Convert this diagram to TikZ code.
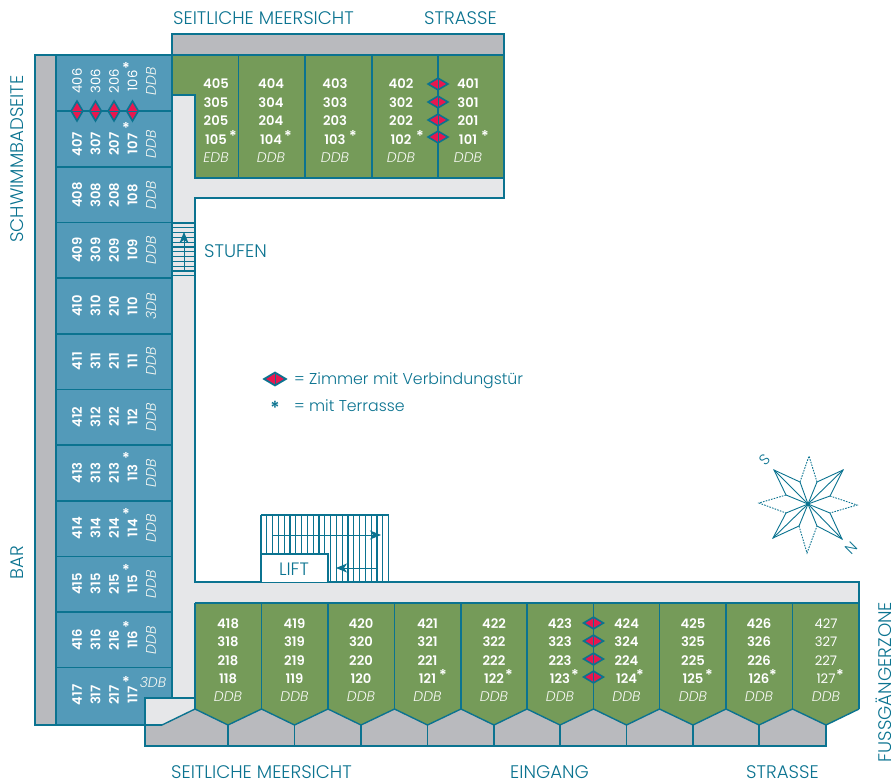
\documentclass[tikz,border=0pt]{standalone}
\usepackage{fontspec}
\setmainfont{Poppins}[UprightFont=* Light,BoldFont=* SemiBold,ItalicFont=* Light Italic]
\newfontfamily\regf{Poppins}
\usetikzlibrary{arrows.meta}
\definecolor{teal}{HTML}{0B7390}
\definecolor{bluer}{HTML}{539AB9}
\definecolor{greenr}{HTML}{759B59}
\definecolor{grayr}{HTML}{B9BABE}
\definecolor{corr}{HTML}{E6E7E9}
\definecolor{redd}{HTML}{E8174F}
\definecolor{bedc}{HTML}{F6F8F3}
\tikzset{
 wall/.style={draw=teal,line width=1.4bp},
 lbl/.style={text=teal,font=\fontsize{18.3}{19}\selectfont,inner sep=0pt},
 legendtext/.style={text=teal,font=\fontsize{15.8}{16}\selectfont,inner sep=0pt},
 num/.style={text=white,font=\bfseries\fontsize{13.2}{13}\selectfont,inner sep=0pt},
 thin num/.style={text=white,font=\regf\fontsize{13.2}{13}\selectfont,inner sep=0pt},
 bed/.style={text=bedc,font=\itshape\fontsize{14}{14}\selectfont,inner sep=0pt},
 starm/.style={text=white,font=\bfseries\fontsize{15}{15}\selectfont,inner sep=0pt},
 flight/.style={draw=teal,line width=1.2bp},
 flow/.style={draw=teal,line width=1bp,-{Stealth[length=11bp,width=9bp,inset=3bp]}},
 compass/.style={draw=teal,line width=0.9bp},
 compass dash/.style={draw=teal,line width=0.9bp,dash pattern=on 1.6bp off 1.2bp},
}
\newcommand{\dmH}[3]{% x y scale : wide diamond, vertical divider
 \fill[teal] (#1-11.5*#3,#2)--(#1,#2-6.8*#3)--(#1+11.5*#3,#2)--(#1,#2+6.8*#3)--cycle;
 \fill[redd] (#1-8*#3,#2)--(#1,#2-4.8*#3)--(#1+8*#3,#2)--(#1,#2+4.8*#3)--cycle;
 \draw[teal,line width=1bp] (#1,#2-6.8*#3)--(#1,#2+6.8*#3);}
\newcommand{\dmV}[2]{% x y : tall diamond, horizontal divider
 \fill[teal] (#1,#2-11.5)--(#1-6.8,#2)--(#1,#2+11.5)--(#1+6.8,#2)--cycle;
 \fill[redd] (#1,#2-8)--(#1-4.8,#2)--(#1,#2+8)--(#1+4.8,#2)--cycle;
 \draw[teal,line width=1bp] (#1-6.8,#2)--(#1+6.8,#2);}
\begin{document}
\begin{tikzpicture}[x=1bp,y=-1bp]
\useasboundingbox (0,0) rectangle (891,782);
% fills
\fill[grayr] (35,55) rectangle (56,725);
\fill[bluer] (56,55) rectangle (172,725);
\fill[grayr] (172,34) rectangle (504,55);
\fill[corr] (172,95) rectangle (195,698);
\fill[corr] (195,178) rectangle (504,198);
\fill[corr] (172,582) rectangle (859,603);
\fill[corr] (145,698) -- (195,698) -- (195,709) -- (162,725) -- (145,725) -- cycle;
\fill[greenr] (172,55) -- (504,55) -- (504,178) -- (195,178) -- (195,95) -- (172,95) -- cycle;
\fill[grayr] (145,725) -- (162,725) -- (195,709) -- (228,725) -- (261.5,709) -- (294.5,725) -- (328,709) -- (361,725) -- (394.5,709) -- (427.5,725) -- (461,709) -- (494,725) -- (527,709) -- (560,725) -- (593.5,709) -- (626.5,725) -- (659.5,709) -- (693,725) -- (726,709) -- (759,725) -- (792.5,709) -- (826,725) -- (826,746) -- (145,746) -- cycle;
\fill[greenr] (195,603) -- (859,603) -- (859,709) -- (826,725) -- (792.5,709) -- (759,725) -- (726,709) -- (693,725) -- (659.5,709) -- (626.5,725) -- (593.5,709) -- (560,725) -- (527,709) -- (494,725) -- (461,709) -- (427.5,725) -- (394.5,709) -- (361,725) -- (328,709) -- (294.5,725) -- (261.5,709) -- (228,725) -- (195,709) -- cycle;
% walls
\draw[wall] (145,725) -- (35,725) -- (35,55) -- (172,55) -- (172,34) -- (504,34) -- (504,198) -- (195,198) -- (195,582) -- (859,582) -- (859,709);
\draw[wall] (56,55) -- (56,725);
\draw[wall] (172,55) -- (504,55);
\draw[wall] (172,55) -- (172,698);
\draw[wall] (172,95) -- (195,95) -- (195,178) -- (504,178);
\foreach \y in {111,167,222.5,278,334,389.5,445,501,556.5,612,667.5} \draw[wall] (56,\y) -- (172,\y);
\foreach \x in {238.5,305,372,438} \draw[wall] (\x,55) -- (\x,178);
\draw[wall] (195,603) -- (859,603);
\draw[wall] (195,603) -- (195,709);
\foreach \x in {261.5,328,394.5,461,527,593.5,659.5,726,792.5,859} \draw[wall] (\x,603) -- (\x,709);
\draw[wall] (162,725) -- (195,709) -- (228,725) -- (261.5,709) -- (294.5,725) -- (328,709) -- (361,725) -- (394.5,709) -- (427.5,725) -- (461,709) -- (494,725) -- (527,709) -- (560,725) -- (593.5,709) -- (626.5,725) -- (659.5,709) -- (693,725) -- (726,709) -- (759,725) -- (792.5,709) -- (826,725) -- (859,709);
\foreach \x in {228,294.5,361,427.5,494,560,626.5,693,759} \draw[wall] (\x,725) -- (\x,746);
\draw[wall] (195,698) -- (145,698) -- (145,746) -- (826,746) -- (826,725);
\draw[wall] (145,725) -- (162,725);
% steps
\foreach \y in {223,227.8,...,277} \draw[flight] (172,\y) -- (195,\y);
\draw[flow] (184,271) -- (184,232);
% lift stairs
\foreach \x in {261,266.8,...,390} \draw[flight] (\x,515) -- (\x,581);
\draw[flight] (261,515) -- (389,515);
\fill[white] (261,554) rectangle (328,582);
\draw[wall] (261,582) -- (261,554) -- (328,554) -- (328,582);
\draw[flow] (272,535) -- (381,535);
\draw[flow] (378,568) -- (336,568);
\node[lbl,font=\fontsize{18}{18}\selectfont] (lift) at (294,569) {LIFT};
% blue rooms
\foreach \nm/\yy/\a/\b/\c/\d/\bb in {
 407/144/407/307/207/107/DDB,408/195/408/308/208/108/DDB,409/250/409/309/209/109/DDB,
 410/306/410/310/210/110/3DB,411/361/411/311/211/111/DDB,412/417/412/312/212/112/DDB,
 413/473/413/313/213/113/DDB,414/528/414/314/214/114/DDB,415/584/415/315/215/115/DDB,
 416/640/416/316/216/116/DDB}{
 \node[num,rotate=90] (n\a) at (77,\yy) {\a};
 \node[num,rotate=90] (n\b) at (95.5,\yy) {\b};
 \node[num,rotate=90] (n\c) at (114,\yy) {\c};
 \node[num,rotate=90] (n\d) at (132.5,\yy) {\d};
 \node[bed,rotate=90] (b\a) at (151,\yy) {\bb};
}
\foreach \x/\t in {77/406,95.5/306,114/206,132.5/106} \node[thin num,rotate=90] (n\t) at (\x,81) {\t};
\node[bed,rotate=90] (b406) at (151,81) {DDB};
\foreach \x/\t in {77/417,95.5/317,114/217,132.5/117} \node[num,rotate=90] (n\t) at (\x,695) {\t};
\node[bed] (b417) at (153,682) {3DB};
\foreach \y in {68,128,458,514,570,627,682} \node[starm] at (126,\y) {*};
% top rooms
\foreach \x/\a/\b/\c/\d/\bb in {216/405/305/205/105/EDB,271/404/304/204/104/DDB,335/403/303/203/103/DDB,401/402/302/202/102/DDB,468/401/301/201/101/DDB}{
 \node[num] (n\a) at (\x,83.5) {\a};
 \node[num] (n\b) at (\x,102.5) {\b};
 \node[num] (n\c) at (\x,120.5) {\c};
 \node[num] (n\d) at (\x,139.5) {\d};
 \node[bed] (b\a) at (\x,158) {\bb};
}
\foreach \x in {233,288,353,420,485} \node[starm] at (\x,136) {*};
% bottom rooms
\foreach \x/\a/\b/\c/\d in {228/418/318/218/118,294.5/419/319/219/119,361/420/320/220/120,427.5/421/321/221/121,494/422/322/222/122,560/423/323/223/123,626.5/424/324/224/124,693/425/325/225/125,759/426/326/226/126}{
 \node[num] (n\a) at (\x,623.5) {\a};
 \node[num] (n\b) at (\x,641.5) {\b};
 \node[num] (n\c) at (\x,660.5) {\c};
 \node[num] (n\d) at (\x,678.5) {\d};
 \node[bed] (b\a) at (\x,697) {DDB};
}
\foreach \y/\t in {623.5/427,641.5/327,660.5/227,678.5/127} \node[thin num] (n\t) at (826,\y) {\t};
\node[bed] (b427) at (826,697) {DDB};
\foreach \x in {443,509,575,640,709,773,840} \node[starm] at (\x,675) {*};
% diamonds
\foreach \x in {77,95.5,114,132.5} {\dmV{\x}{111}}
\foreach \y in {84,102,120,137} {\dmH{438}{\y}{1}}
\foreach \y in {623,641,659,677} {\dmH{593.5}{\y}{1}}
% labels
\node[lbl,anchor=west] (l1) at (173,18) {SEITLICHE MEERSICHT};
\node[lbl,anchor=west] (l2) at (424,18) {STRASSE};
\node[lbl,rotate=90] (l3) at (17,159) {SCHWIMMBADSEITE};
\node[lbl,rotate=90] (l4) at (17,563) {BAR};
\node[lbl,anchor=west] (l5) at (171,772) {SEITLICHE MEERSICHT};
\node[lbl,anchor=west] (l6) at (510,772) {EINGANG};
\node[lbl,anchor=west] (l7) at (746,772) {STRASSE};
\node[lbl,rotate=90] (l8) at (884,682) {FUSSGÄNGERZONE};
\node[lbl,anchor=west] (l9) at (204,251) {STUFEN};
% legend
\dmH{275}{379}{1.1}
\node[legendtext,anchor=west] (leg1) at (294,380.5) {= Zimmer mit Verbindungstür};
\node[legendtext,anchor=west] (leg2) at (294,405.5) {= mit Terrasse};
\node[text=teal,font=\bfseries\fontsize{18}{18}\selectfont,inner sep=0pt] (legs) at (275,408) {*};
% compass
\coordinate (c) at (808,504);
\foreach \t/\p/\q in {{774,470}/{800,482}/{786,495},{843,470}/{817,482}/{830,496},{773,538}/{786,513}/{799,526},{842,539}/{830,513}/{817,526}}{
 \draw[compass] (c) -- (\t);
 \draw[compass] (c) -- (\p) -- (\t) -- (\q) -- cycle;
}
\foreach \t/\p/\q in {{809,456}/{800,482}/{817,482},{857,505}/{830,496}/{830,513},{807,553}/{799,526}/{817,526},{759,503}/{786,495}/{786,513}}{
 \draw[compass dash] (\p) -- (\t) -- (\q);
}
\node[text=teal,rotate=45,font=\fontsize{15}{15}\selectfont,inner sep=0pt] (cs) at (765,460) {S};
\node[text=teal,rotate=45,font=\fontsize{15}{15}\selectfont,inner sep=0pt] (cn) at (851,548) {N};
\end{tikzpicture}
\end{document}
